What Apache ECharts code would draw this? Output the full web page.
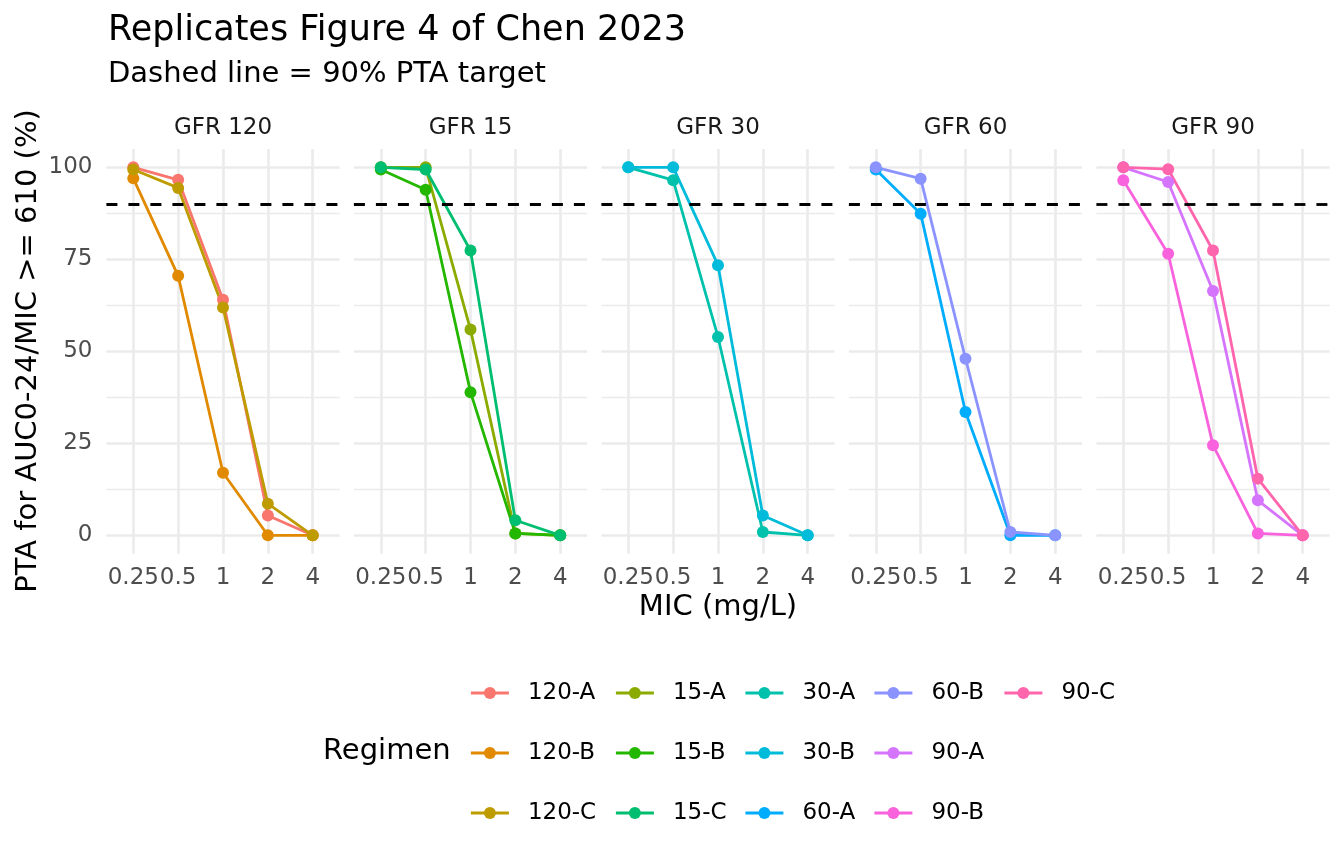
<!DOCTYPE html>
<html>
<head>
<meta charset="utf-8">
<script src="https://cdn.jsdelivr.net/npm/echarts@6/dist/echarts.min.js"></script>
<style>
  html, body { margin: 0; padding: 0; background: #fff; }
  #chart { width: 1344px; height: 864px; }
</style>
</head>
<body>
<div id="chart"></div>
<script>
  // MIC levels (discrete x axis) and facet panels
  const mics = ['0.25', '0.5', '1', '2', '4'];
  const panels = ['GFR 120', 'GFR 15', 'GFR 30', 'GFR 60', 'GFR 90'];
  const yTicks = [0, 25, 50, 75, 100];
  const yMinorTicks = [12.5, 37.5, 62.5, 87.5];
  const target = 90;

  // PTA (%) per regimen, one value per MIC level
  const pta120A = [100, 96.6, 64.0, 5.4, 0];
  const pta120B = [97.0, 70.5, 17.0, 0, 0];
  const pta120C = [99.4, 94.4, 61.9, 8.6, 0];
  const pta15A = [100, 100, 55.9, 0.5, 0];
  const pta15B = [99.4, 93.9, 38.9, 0.5, 0];
  const pta15C = [100, 99.4, 77.4, 4.1, 0];
  const pta30A = [100, 96.5, 53.9, 0.9, 0];
  const pta30B = [100, 100, 73.4, 5.4, 0];
  const pta60A = [99.4, 87.4, 33.5, 0, 0];
  const pta60B = [100, 96.9, 48.0, 0.9, 0];
  const pta90A = [100, 96.0, 66.4, 9.5, 0];
  const pta90B = [96.5, 76.5, 24.5, 0.5, 0];
  const pta90C = [100, 99.5, 77.4, 15.4, 0];

  const regimens = ['120-A', '120-B', '120-C', '15-A', '15-B', '15-C',
    '30-A', '30-B', '60-A', '60-B', '90-A', '90-B', '90-C'];
  const regimenPanel = [0, 0, 0, 1, 1, 1, 2, 2, 3, 3, 4, 4, 4];
  const regimenValues = [pta120A, pta120B, pta120C, pta15A, pta15B, pta15C,
    pta30A, pta30B, pta60A, pta60B, pta90A, pta90B, pta90C];
  const colors = ['#F8766D', '#E18A00', '#BE9C00', '#8CAB00', '#24B700', '#00BE70',
    '#00C1AB', '#00BBDA', '#00ACFC', '#8B93FF', '#D575FE', '#F962DD', '#FF65AC'];

  // layout (pixels)
  const font = 'DejaVu Sans';
  const panelLeft = 106.4, panelWidth = 233.2, panelPitch = 247.5;
  const panelTop = 148.9, panelHeight = 404.8;
  const gridColor = '#EBEBEB';

  const grids = [], xAxes = [], yAxes = [], series = [], graphics = [];

  panels.forEach((p, i) => {
    const left = panelLeft + panelPitch * i;
    grids.push({ left: left, top: panelTop, width: panelWidth, height: panelHeight });

    xAxes.push({
      type: 'value', gridIndex: i, min: -0.6, max: 4.6,
      axisLine: { show: false },
      axisTick: { show: false, customValues: [0, 1, 2, 3, 4] },
      axisLabel: {
        customValues: [0, 1, 2, 3, 4],
        formatter: v => mics[Math.round(v)],
        color: '#4D4D4D', fontSize: 23, fontFamily: font, margin: 13
      },
      splitLine: { show: true, lineStyle: { color: gridColor, width: 2.6 } }
    });

    // major grid + labels
    yAxes.push({
      type: 'value', gridIndex: i, min: -5, max: 105,
      axisLine: { show: false },
      axisTick: { show: false, customValues: yTicks },
      axisLabel: {
        show: i === 0, customValues: yTicks,
        color: '#4D4D4D', fontSize: 23, fontFamily: font, margin: 14
      },
      splitLine: { show: true, lineStyle: { color: gridColor, width: 2.6 } }
    });
    // minor grid
    yAxes.push({
      type: 'value', gridIndex: i, min: -5, max: 105, position: 'right',
      axisLine: { show: false },
      axisTick: { show: false, customValues: yMinorTicks },
      axisLabel: { show: false },
      splitLine: { show: true, lineStyle: { color: gridColor, width: 1.3 } }
    });

    graphics.push({
      type: 'text', x: left + panelWidth / 2, y: 128,
      style: { text: p, fontSize: 23, fontFamily: font, fill: '#1A1A1A', align: 'center', verticalAlign: 'middle' }
    });
  });

  regimens.forEach((name, k) => {
    const p = regimenPanel[k];
    const isLastInPanel = regimenPanel[k + 1] !== p;
    const s = {
      name: name, type: 'line',
      xAxisIndex: p, yAxisIndex: p * 2,
      data: regimenValues[k].map((v, j) => [j, v]),
      symbol: 'circle', symbolSize: 12,
      color: colors[k],
      lineStyle: { color: colors[k], width: 2.8 },
      itemStyle: { color: colors[k] },
      z: 3, animation: false, clip: false
    };
    if (isLastInPanel) {
      s.markLine = {
        silent: true, symbol: 'none', animation: false,
        label: { show: false },
        lineStyle: { color: '#000', width: 2.8, type: [11, 11] },
        data: [{ yAxis: target }]
      };
    }
    series.push(s);
  });

  // titles and axis titles
  graphics.push(
    { type: 'text', x: 108, y: 31, style: { text: 'Replicates Figure 4 of Chen 2023', fontSize: 35, fontFamily: font, fill: '#000', verticalAlign: 'middle' } },
    { type: 'text', x: 108, y: 74, style: { text: 'Dashed line = 90% PTA target', fontSize: 29, fontFamily: font, fill: '#000', verticalAlign: 'middle' } },
    { type: 'text', x: 718, y: 607, style: { text: 'MIC (mg/L)', fontSize: 29, fontFamily: font, fill: '#000', align: 'center', verticalAlign: 'middle' } },
    { type: 'text', x: 28, y: 351, rotation: Math.PI / 2, style: { text: 'PTA for AUC0-24/MIC >= 610 (%)', fontSize: 29, fontFamily: font, fill: '#000', align: 'center', verticalAlign: 'middle' } },
    { type: 'text', x: 323, y: 751, style: { text: 'Regimen', fontSize: 29, fontFamily: font, fill: '#000', verticalAlign: 'middle' } }
  );

  // legend laid out column by column, like ggplot
  const legendCols = [[0, 1, 2], [3, 4, 5], [6, 7, 8], [9, 10, 11], [12]];
  const legendLefts = [469.5, 614.5, 744, 873, 1003];
  const legends = legendCols.map((col, c) => ({
    orient: 'vertical', left: legendLefts[c], top: 681, padding: 0,
    data: col.map(k => regimens[k]),
    itemWidth: 38, itemHeight: 15, itemGap: 36,
    selectedMode: false,
    lineStyle: { width: 2.8 },
    textStyle: { fontSize: 23, fontFamily: font, color: '#000', lineHeight: 24, padding: [0, 0, 0, 14] }
  }));

  const chart = echarts.init(document.getElementById('chart'));
  chart.setOption({
    animation: false,
    backgroundColor: '#fff',
    textStyle: { fontFamily: font },
    grid: grids, xAxis: xAxes, yAxis: yAxes,
    legend: legends,
    series: series,
    graphic: graphics
  });
</script>
</body>
</html>
